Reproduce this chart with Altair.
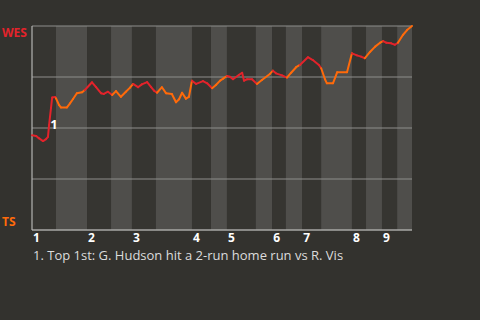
import altair as alt
import pandas as pd

# game progress (0-100) and WES win probability
prog = [0, 1.1, 1.8, 2.9, 3.7, 4.2, 4.5, 5.0, 5.3, 6.1, 6.3, 7.1, 7.6, 9.2, 10.0, 10.8,
        11.8, 13.2, 13.9, 15.8, 16.8, 18.2, 18.9, 20.0, 21.1, 22.1, 23.4, 24.7, 25.8,
        26.6, 27.9, 28.9, 30.3, 31.3, 32.1, 32.9, 34.2, 35.3, 36.8, 37.9, 38.7, 39.5,
        40.5, 41.3, 42.1, 43.2, 45.0, 46.1, 47.4, 48.4, 49.5, 50.3, 51.3, 52.1, 52.9,
        54.5, 55.3, 55.8, 56.6, 57.9, 59.2, 60.5, 62.6, 63.4, 64.2, 65.8, 67.1, 68.2,
        69.5, 70.5, 72.6, 73.9, 75.5, 76.1, 77.1, 77.6, 79.2, 80.3, 82.9, 84.2, 85.5,
        86.6, 87.6, 89.0, 90.3, 91.6, 92.4, 93.2, 94.5, 95.5, 96.3, 97.6, 98.7, 100]
wes_wp = [.464, .461, .450, .436, .445, .457, .515, .598, .649, .652, .646, .613, .601,
          .601, .621, .642, .670, .675, .686, .724, .702, .670, .667, .678, .662, .681,
          .653, .678, .698, .716, .700, .714, .725, .702, .683, .673, .700, .670, .667,
          .626, .641, .673, .644, .653, .732, .716, .730, .719, .695, .711, .732, .742,
          .755, .751, .739, .761, .771, .732, .739, .739, .716, .735, .765, .781, .768,
          .758, .747, .771, .798, .809, .847, .833, .809, .793, .739, .719, .719, .773,
          .773, .866, .856, .850, .842, .874, .899, .918, .926, .918, .915, .908, .918,
          .956, .980, 1.0]

# half-inning boundaries (game progress)
half_start = [0, 6.3, 14.5, 20.8, 26.3, 32.6, 42.1, 47.1, 51.3, 58.9, 63.2, 66.8,
              71.1, 76.1, 84.2, 87.9, 92.1, 96.1]
half_end = half_start[1:] + [100]
inning_labels = ["1", "2", "3", "4", "5", "6", "7", "8", "9"]

RED = "#e3232b"
ORANGE = "#ff6a0a"
BAND_TOP = "#363531"
BAND_BOT = "#4f4e4b"

bands = pd.DataFrame({
    "x": half_start, "x2": half_end,
    "fill": [BAND_TOP if i % 2 == 0 else BAND_BOT for i in range(len(half_start))],
})

def half_color(v):
    for i, (a, b) in enumerate(zip(half_start, half_end)):
        if a <= v < b:
            return RED if i % 2 == 0 else ORANGE
    return ORANGE

rows = []
for i in range(len(prog) - 1):
    c = half_color((prog[i] + prog[i + 1]) / 2)
    rows.append({"seg": i, "x": prog[i], "y": wes_wp[i], "col": c, "o": 0})
    rows.append({"seg": i, "x": prog[i + 1], "y": wes_wp[i + 1], "col": c, "o": 1})
segs = pd.DataFrame(rows)

xs = alt.Scale(domain=[0, 100], nice=False, zero=False)
ys = alt.Scale(domain=[0, 1], nice=False)

band_chart = alt.Chart(bands).mark_rect().encode(
    x=alt.X("x:Q", scale=xs, axis=None),
    x2="x2:Q",
    y=alt.value(0), y2=alt.value(204),
    fill=alt.Fill("fill:N", scale=None),
)

tick_df = pd.DataFrame({"x": half_start[0::2], "lab": inning_labels})
ticks = alt.Chart(tick_df).mark_text(
    align="left", baseline="middle", font="Open Sans", fontWeight="bold", fontSize=12, color="#ffffff", dx=1
).encode(x=alt.X("x:Q", scale=xs), y=alt.value(212), text="lab:N")

grid = alt.Chart(pd.DataFrame({"y": [0, 0.25, 0.5, 0.75, 1.0]})).mark_rule(
    color="#8e8e8c", strokeWidth=1
).encode(y=alt.Y("y:Q", scale=ys, axis=None))

axes = alt.Chart(pd.DataFrame({"a": [0]})).mark_rule(color="#b4b4b2", strokeWidth=1.2).encode(
    x=alt.value(0), y=alt.value(0), y2=alt.value(204)
)
axes_b = alt.Chart(pd.DataFrame({"a": [0]})).mark_rule(color="#b4b4b2", strokeWidth=1.2).encode(
    x=alt.value(0), x2=alt.value(380), y=alt.value(204)
)

line = alt.Chart(segs).mark_line(strokeWidth=2, strokeJoin="round", strokeCap="round").encode(
    x=alt.X("x:Q", scale=xs),
    y=alt.Y("y:Q", scale=ys),
    detail="seg:N",
    order="o:Q",
    stroke=alt.Stroke("col:N", scale=None),
)

ann = alt.Chart(pd.DataFrame({"x": [5.8], "y": [0.515], "t": ["1"]})).mark_text(
    font="Open Sans", fontWeight="bold", fontSize=13, color="#ffffff", align="center", baseline="middle"
).encode(x=alt.X("x:Q", scale=xs), y=alt.Y("y:Q", scale=ys), text="t:N")

team_df = pd.DataFrame({"t": ["WES", "TS"], "y": [0.965, 0.04], "c": [RED, ORANGE]})
teams = alt.Chart(team_df).mark_text(
    font="Open Sans", fontWeight="bold", fontSize=12, align="left", baseline="middle", dx=0
).encode(x=alt.value(-30), y=alt.Y("y:Q", scale=ys), text="t:N",
         color=alt.Color("c:N", scale=None))

note = alt.Chart(pd.DataFrame({"t": ["1. Top 1st: G. Hudson hit a 2-run home run vs R. Vis"]})).mark_text(
    font="Open Sans", fontSize=13, color="#dcdcdc", align="left", baseline="middle"
).encode(x=alt.value(1), y=alt.value(230), text="t:N")

chart = alt.layer(band_chart, grid, axes, axes_b, line, ann, teams, ticks, note).properties(
    width=380, height=204,
    background="#33322e",
    padding={"left": 32, "top": 26, "right": 68, "bottom": 90},
    autosize=alt.AutoSizeParams(type="none"),
).configure_view(stroke=None)

chart.save("out.html", embed_options={"renderer": "svg", "actions": False})
